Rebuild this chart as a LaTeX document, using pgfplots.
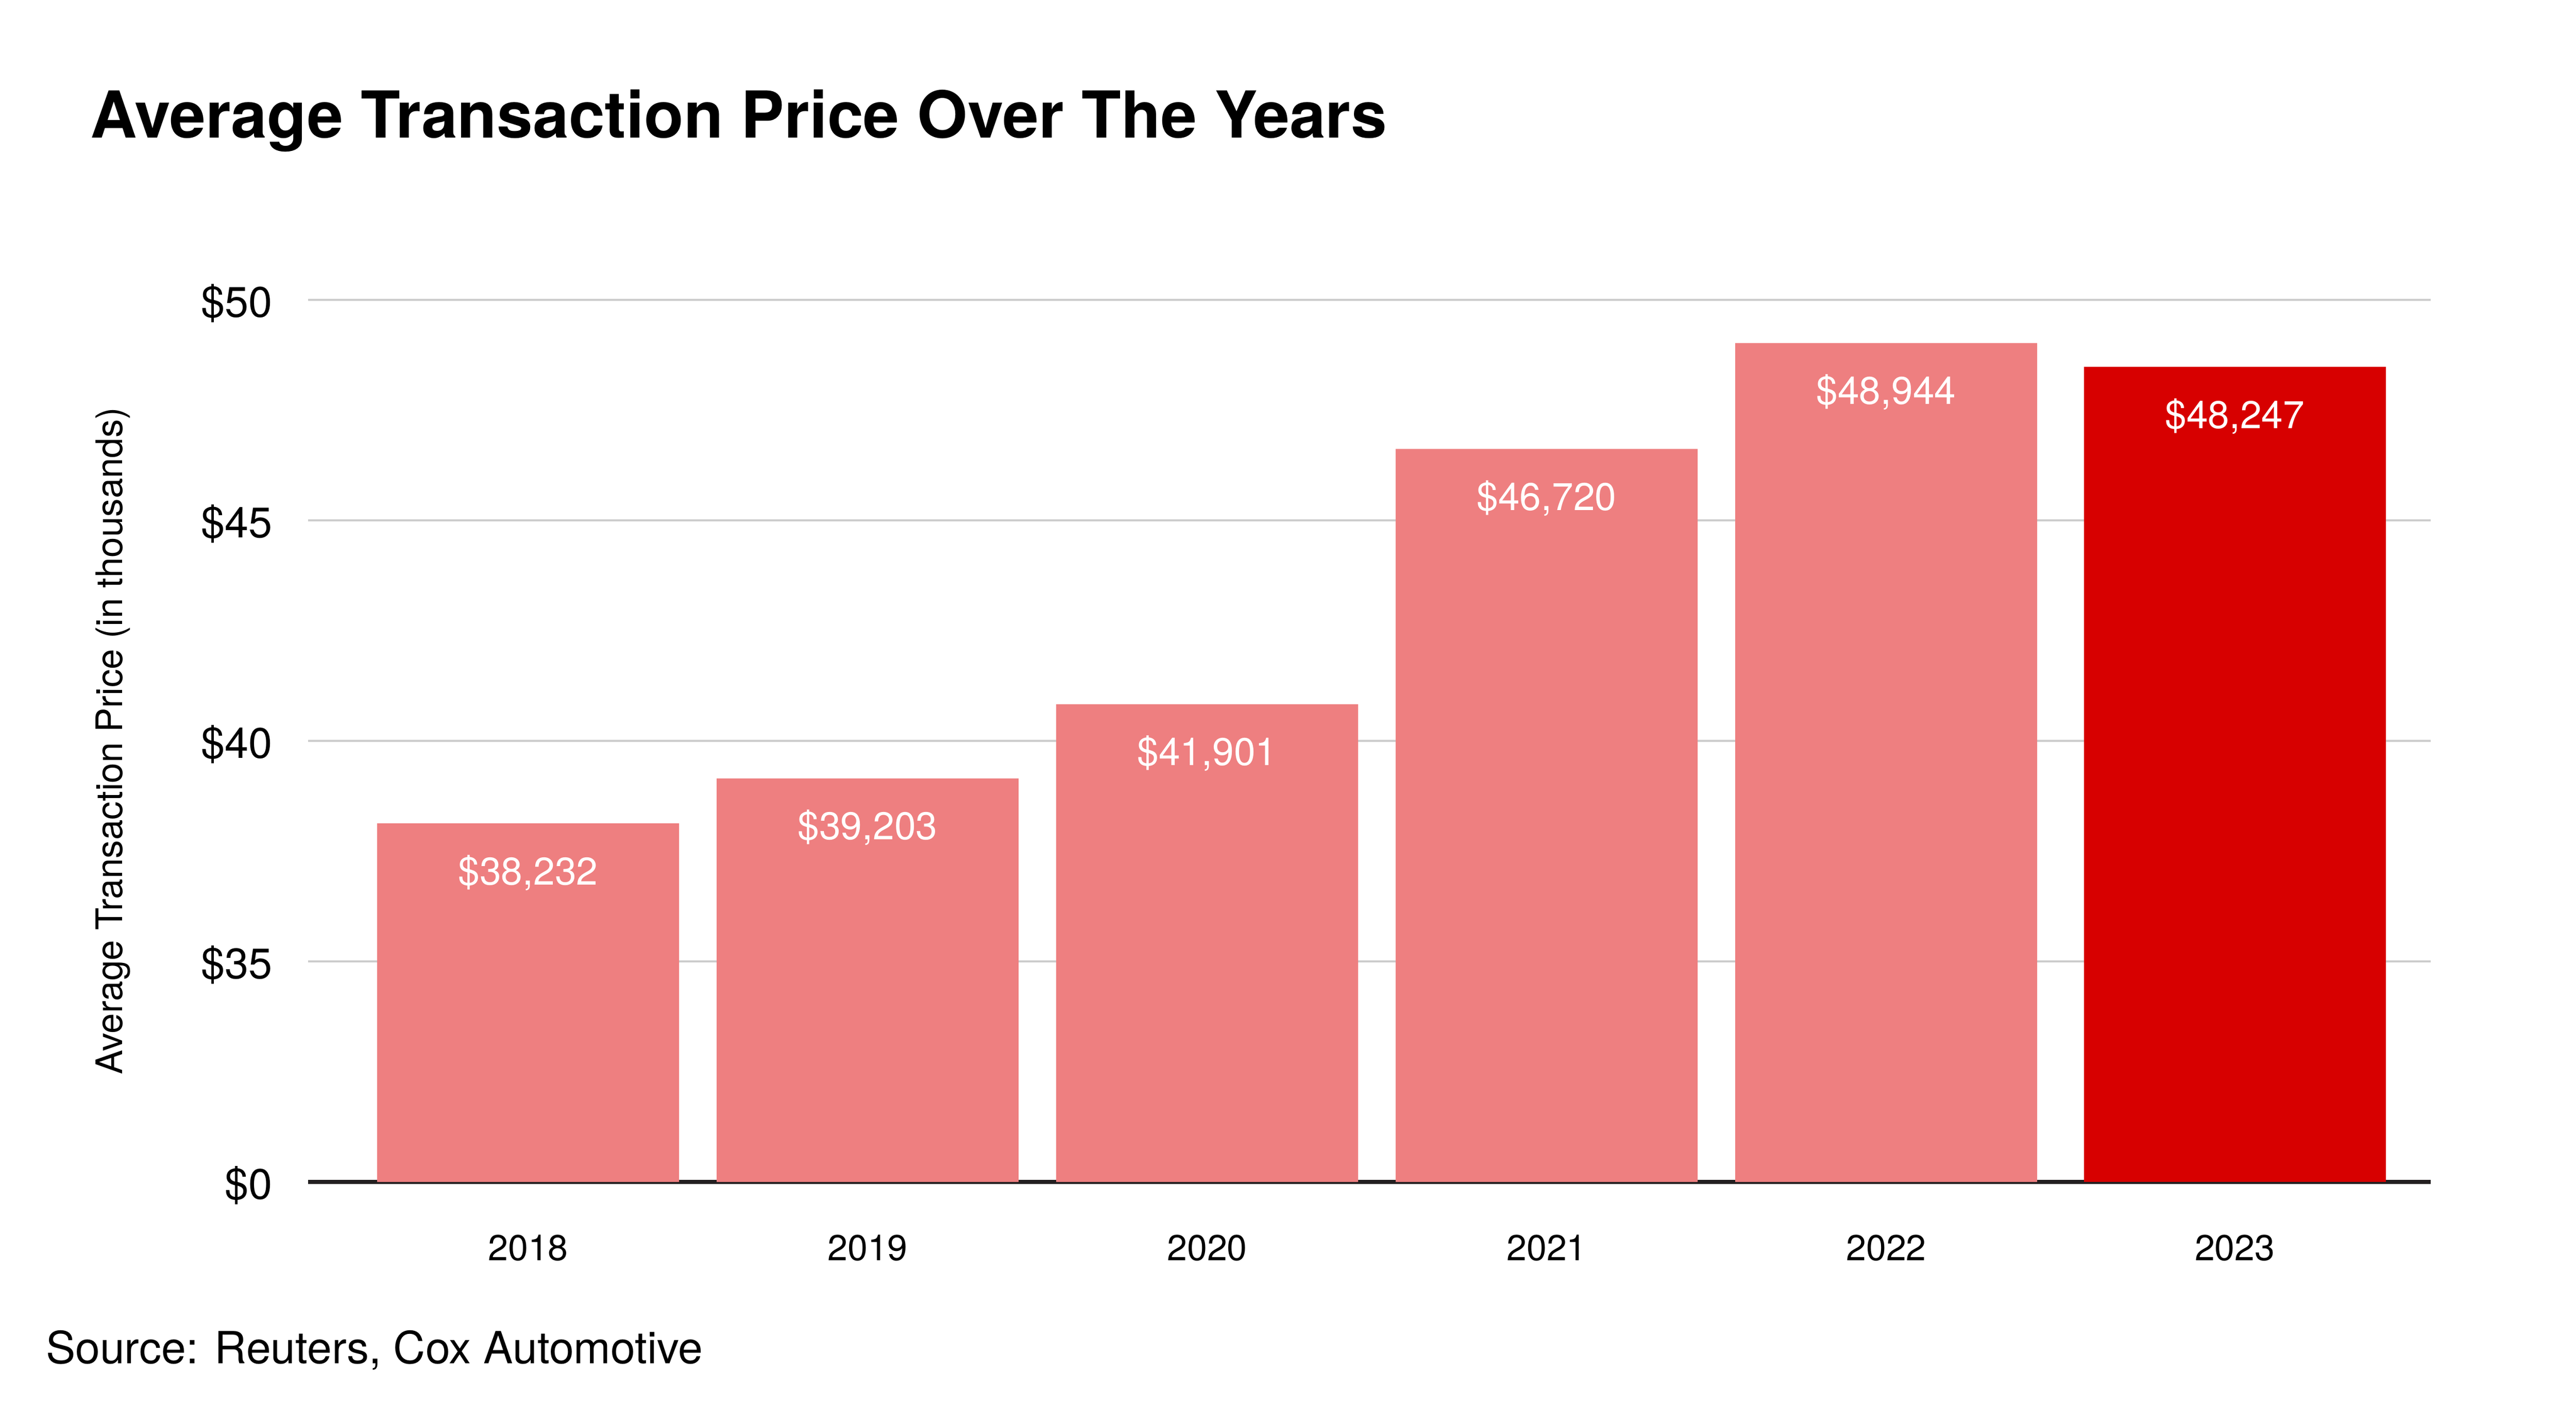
\documentclass[border=0pt]{standalone}
\usepackage{pgfplots}
\pgfplotsset{compat=1.18}
\usepackage{pgfplotstable}
\usepackage{fontspec}
\setmainfont{TeX Gyre Heros}
\definecolor{barlight}{HTML}{EE7F80}
\definecolor{bardark}{HTML}{D70000}
\definecolor{gridgray}{HTML}{CCCCCC}
\definecolor{axisblack}{HTML}{231F20}

% bar heights as drawn in the reference (thousands), labels as printed
\pgfplotstableread{
x     y       lab
0     38.13   38,232
1     39.15   39,203
2     40.83   41,901
3     46.62   46,720
4     49.02   48,944
}\lightdata
\pgfplotstableread{
x     y       lab
5.027 48.48   48,247
}\darkdata

\begin{document}
\begin{tikzpicture}
\useasboundingbox (0pt,0pt) rectangle (500pt,275.9pt);
\begin{axis}[
  at={(59.8pt,46.5pt)}, anchor=south west,
  scale only axis, width=412pt, height=171.2pt,
  xmin=-0.648, xmax=5.604, ymin=30, ymax=50,
  enlargelimits=false,
  ybar, bar width=58.6pt,
  axis x line*=bottom, axis y line*=left,
  y axis line style={draw=none},
  x axis line style={line width=0.8pt, color=axisblack, -},
  tick style={draw=none},
  ymajorgrids=true,
  major grid style={line width=0.4pt, color=gridgray},
  ytick={30,35,40,45,50},
  yticklabels={\$0,\$35,\$40,\$45,\$50},
  xtick={0,1,2,3,4,5.027},
  xticklabels={2018,2019,2020,2021,2022,2023},
  yticklabel style={font=\fontsize{8.3}{10}\selectfont, anchor=base east, inner sep=0pt, xshift=-6.7pt, yshift=-3.3pt},
  xticklabel style={font=\fontsize{7}{9}\selectfont, anchor=base, inner sep=0pt, yshift=-11pt},
  ylabel={Average Transaction Price (in thousands)},
  ylabel style={font=\fontsize{7.1}{8}\selectfont, at={(axis description cs:-0.0874,0.5)}, anchor=base, inner sep=0pt},
  point meta=explicit symbolic,
  nodes near coords={\$\pgfplotspointmeta},
  every node near coord/.append style={font=\fontsize{7.5}{9}\selectfont, color=white, anchor=base, yshift=-11.9pt, inner sep=0pt},
  clip=false,
]
\addplot[fill=barlight, draw=none, bar shift=0pt] table[x=x, y=y, meta=lab] {\lightdata};
\addplot[fill=bardark, draw=none, bar shift=0pt] table[x=x, y=y, meta=lab] {\darkdata};
\end{axis}
\node[anchor=base west, inner sep=0pt, font=\fontsize{12.55}{14}\selectfont\bfseries] at (17.3pt,249.1pt) {Average Transaction Price Over The Years};
\node[anchor=base west, inner sep=0pt, font=\fontsize{8.6}{10}\selectfont] at (8.7pt,11.3pt) {Source: Reuters, Cox Automotive};
\end{tikzpicture}
\end{document}
